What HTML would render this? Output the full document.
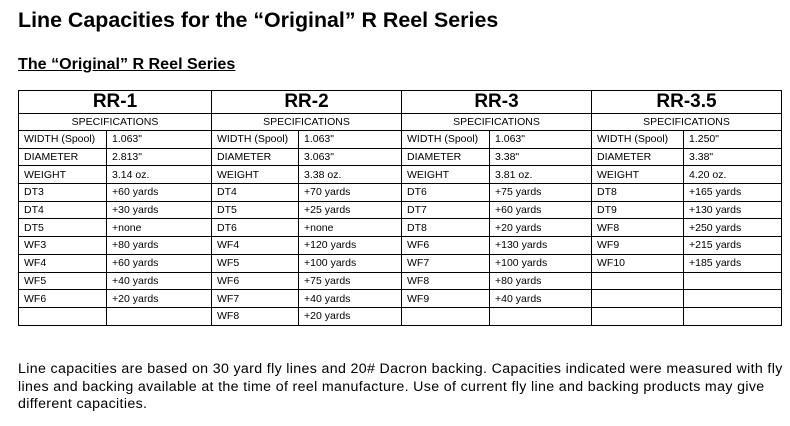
<!DOCTYPE html>
<html><head><meta charset="utf-8"><style>
body{margin:0;width:790px;height:426px;background:#fff;font-family:"Liberation Sans",Arial,sans-serif;color:#000;position:relative;overflow:hidden}
h1{position:absolute;left:18px;top:8px;margin:0;font-size:21.4px;font-weight:bold}
h2{position:absolute;left:18px;top:55px;margin:0;font-size:16.1px;font-weight:bold;text-decoration:underline}
table{position:absolute;left:18px;top:90px;border-collapse:collapse;table-layout:fixed;width:763px}
td{border:1px solid #000;font-size:10.5px;padding:0 0 0 5px;height:16.7px;line-height:12px;white-space:nowrap}
td.h{font-size:19px;font-weight:bold;text-align:center;height:22px;padding:0}
td.s{text-align:center;padding:0;height:16px;font-size:10.5px}
p{position:absolute;left:18px;top:361px;width:775px;margin:0;font-size:14.2px;letter-spacing:0.35px;line-height:17.5px;white-space:nowrap}
</style></head><body>
<h1>Line Capacities for the “Original” R Reel Series</h1>
<h2>The “Original” R Reel Series</h2>
<table>
<colgroup><col style="width:88px"><col style="width:105px"><col style="width:87px"><col style="width:103px"><col style="width:88px"><col style="width:102px"><col style="width:92px"><col style="width:98px"></colgroup>
<tr><td class="h" colspan="2">RR-1</td><td class="h" colspan="2">RR-2</td><td class="h" colspan="2">RR-3</td><td class="h" colspan="2">RR-3.5</td></tr>
<tr><td class="s" colspan="2">SPECIFICATIONS</td><td class="s" colspan="2">SPECIFICATIONS</td><td class="s" colspan="2">SPECIFICATIONS</td><td class="s" colspan="2">SPECIFICATIONS</td></tr>
<tr><td>WIDTH (Spool)</td><td>1.063"</td><td>WIDTH (Spool)</td><td>1.063"</td><td>WIDTH (Spool)</td><td>1.063"</td><td>WIDTH (Spool)</td><td>1.250"</td></tr>
<tr><td>DIAMETER</td><td>2.813"</td><td>DIAMETER</td><td>3.063"</td><td>DIAMETER</td><td>3.38"</td><td>DIAMETER</td><td>3.38"</td></tr>
<tr><td>WEIGHT</td><td>3.14 oz.</td><td>WEIGHT</td><td>3.38 oz.</td><td>WEIGHT</td><td>3.81 oz.</td><td>WEIGHT</td><td>4.20 oz.</td></tr>
<tr><td>DT3</td><td>+60 yards</td><td>DT4</td><td>+70 yards</td><td>DT6</td><td>+75 yards</td><td>DT8</td><td>+165 yards</td></tr>
<tr><td>DT4</td><td>+30 yards</td><td>DT5</td><td>+25 yards</td><td>DT7</td><td>+60 yards</td><td>DT9</td><td>+130 yards</td></tr>
<tr><td>DT5</td><td>+none</td><td>DT6</td><td>+none</td><td>DT8</td><td>+20 yards</td><td>WF8</td><td>+250 yards</td></tr>
<tr><td>WF3</td><td>+80 yards</td><td>WF4</td><td>+120 yards</td><td>WF6</td><td>+130 yards</td><td>WF9</td><td>+215 yards</td></tr>
<tr><td>WF4</td><td>+60 yards</td><td>WF5</td><td>+100 yards</td><td>WF7</td><td>+100 yards</td><td>WF10</td><td>+185 yards</td></tr>
<tr><td>WF5</td><td>+40 yards</td><td>WF6</td><td>+75 yards</td><td>WF8</td><td>+80 yards</td><td></td><td></td></tr>
<tr><td>WF6</td><td>+20 yards</td><td>WF7</td><td>+40 yards</td><td>WF9</td><td>+40 yards</td><td></td><td></td></tr>
<tr><td></td><td></td><td>WF8</td><td>+20 yards</td><td></td><td></td><td></td><td></td></tr>
</table>
<p>Line capacities are based on 30 yard fly lines and 20# Dacron backing. Capacities indicated were measured with fly<br>lines and backing available at the time of reel manufacture. Use of current fly line and backing products may give<br>different capacities.</p>
</body></html>
